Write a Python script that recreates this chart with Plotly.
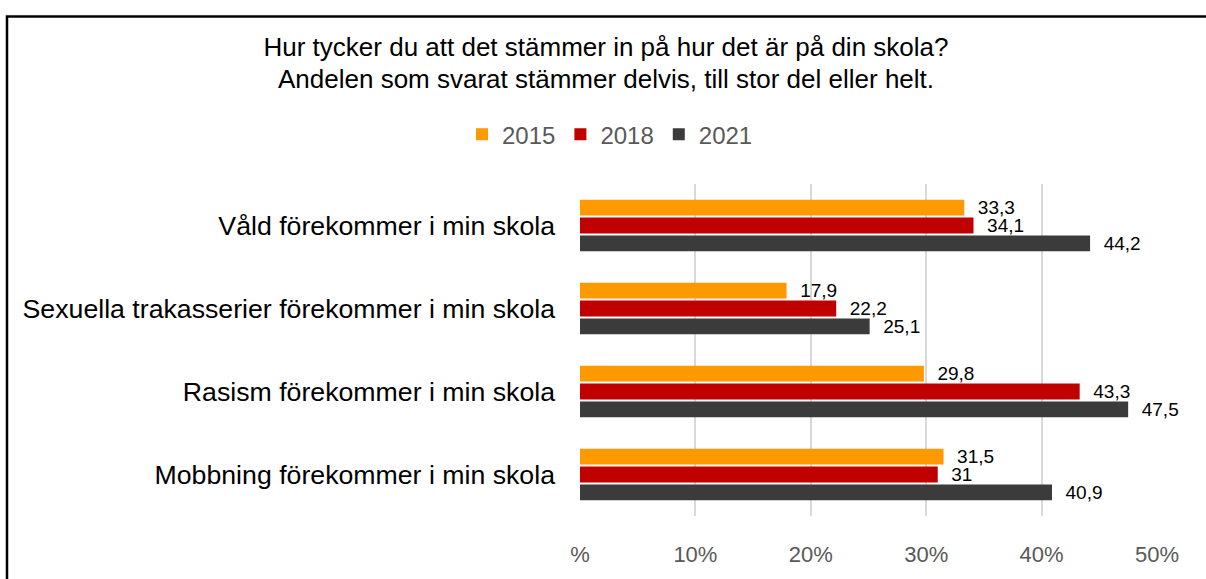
import plotly.graph_objects as go

categories = [
    "Våld förekommer i min skola",
    "Sexuella trakasserier förekommer i min skola",
    "Rasism förekommer i min skola",
    "Mobbning förekommer i min skola",
]
years = ["2015", "2018", "2021"]
values_2015 = [33.3, 17.9, 29.8, 31.5]
values_2018 = [34.1, 22.2, 43.3, 31]
values_2021 = [44.2, 25.1, 47.5, 40.9]
colors = ["#FF9900", "#C00000", "#3B3B3B"]
x_ticks = [0, 10, 20, 30, 40, 50]
x_tick_labels = ["%", "10%", "20%", "30%", "40%", "50%"]
title_line1 = "Hur tycker du att det stämmer in på hur det är på din skola?"
title_line2 = "Andelen som svarat stämmer delvis, till stor del eller helt."

FONT = "Liberation Sans, Arial, sans-serif"
NARROW = "Liberation Sans Narrow, Arial Narrow, Liberation Sans, sans-serif"


def fmt(v):
    return str(v).replace(".", ",")


fig = go.Figure()
for name, vals, col in zip(years, [values_2015, values_2018, values_2021], colors):
    fig.add_trace(go.Bar(
        y=categories, x=vals, name=name, orientation="h",
        marker=dict(color=col, line=dict(width=0)),
        text=[fmt(v) for v in vals], textposition="outside",
        texttemplate="\u00a0\u00a0%{text}",
        textfont=dict(family=FONT, size=19, color="black"),
        constraintext="none",
        cliponaxis=False,
    ))

W, H = 1206, 579
L, R, T, B = 580, 49, 184, 52
pw, ph = W - L - R, H - T - B


def px_x(p):
    return (p - L) / pw


def px_y(p):
    return (H - B - p) / ph


fig.update_layout(
    width=W, height=H,
    margin=dict(l=L, r=R, t=T, b=B),
    paper_bgcolor="white", plot_bgcolor="white",
    barmode="group", bargap=0.353, bargroupgap=0.12,
    title=dict(
        text=title_line1,
        x=606 / W, xanchor="center", xref="container", y=1 - 47 / H, yanchor="middle", yref="container",
        font=dict(family=FONT, size=26, color="black"),
    ),
    annotations=[dict(
        text=title_line2, xref="paper", yref="paper",
        x=px_x(606), y=px_y(76), xanchor="center", yanchor="middle",
        showarrow=False, font=dict(family=FONT, size=26, color="black"),
    )],
    legend=dict(
        orientation="h", x=px_x(610), xanchor="center", y=px_y(133), yanchor="middle",
        font=dict(family=FONT, size=24, color="#595959"),
        itemwidth=30, traceorder="normal",
    ),
    xaxis=dict(
        range=[0, 50], tickvals=x_ticks, ticktext=x_tick_labels,
        showgrid=True, gridcolor="#D9D9D9", gridwidth=1.5,
        zeroline=False, showline=False,
        tickfont=dict(family=NARROW, size=22, color="#595959"),
        ticks="", ticklabelstandoff=23,
    ),
    yaxis=dict(
        categoryorder="array", categoryarray=categories, autorange="reversed",
        tickfont=dict(family=FONT, size=26.7, color="black"),
        ticks="", showline=False, ticklabelstandoff=24,
    ),
    font=dict(family=FONT),
    shapes=[dict(
        type="rect", xref="paper", yref="paper",
        x0=px_x(7), x1=px_x(1215), y0=px_y(11), y1=px_y(600),
        line=dict(color="black", width=2.5), fillcolor="rgba(0,0,0,0)", layer="above",
    )],
)

fig.write_html("out.html", config={"displayModeBar": False},
               post_script="document.body.style.margin='0';")
